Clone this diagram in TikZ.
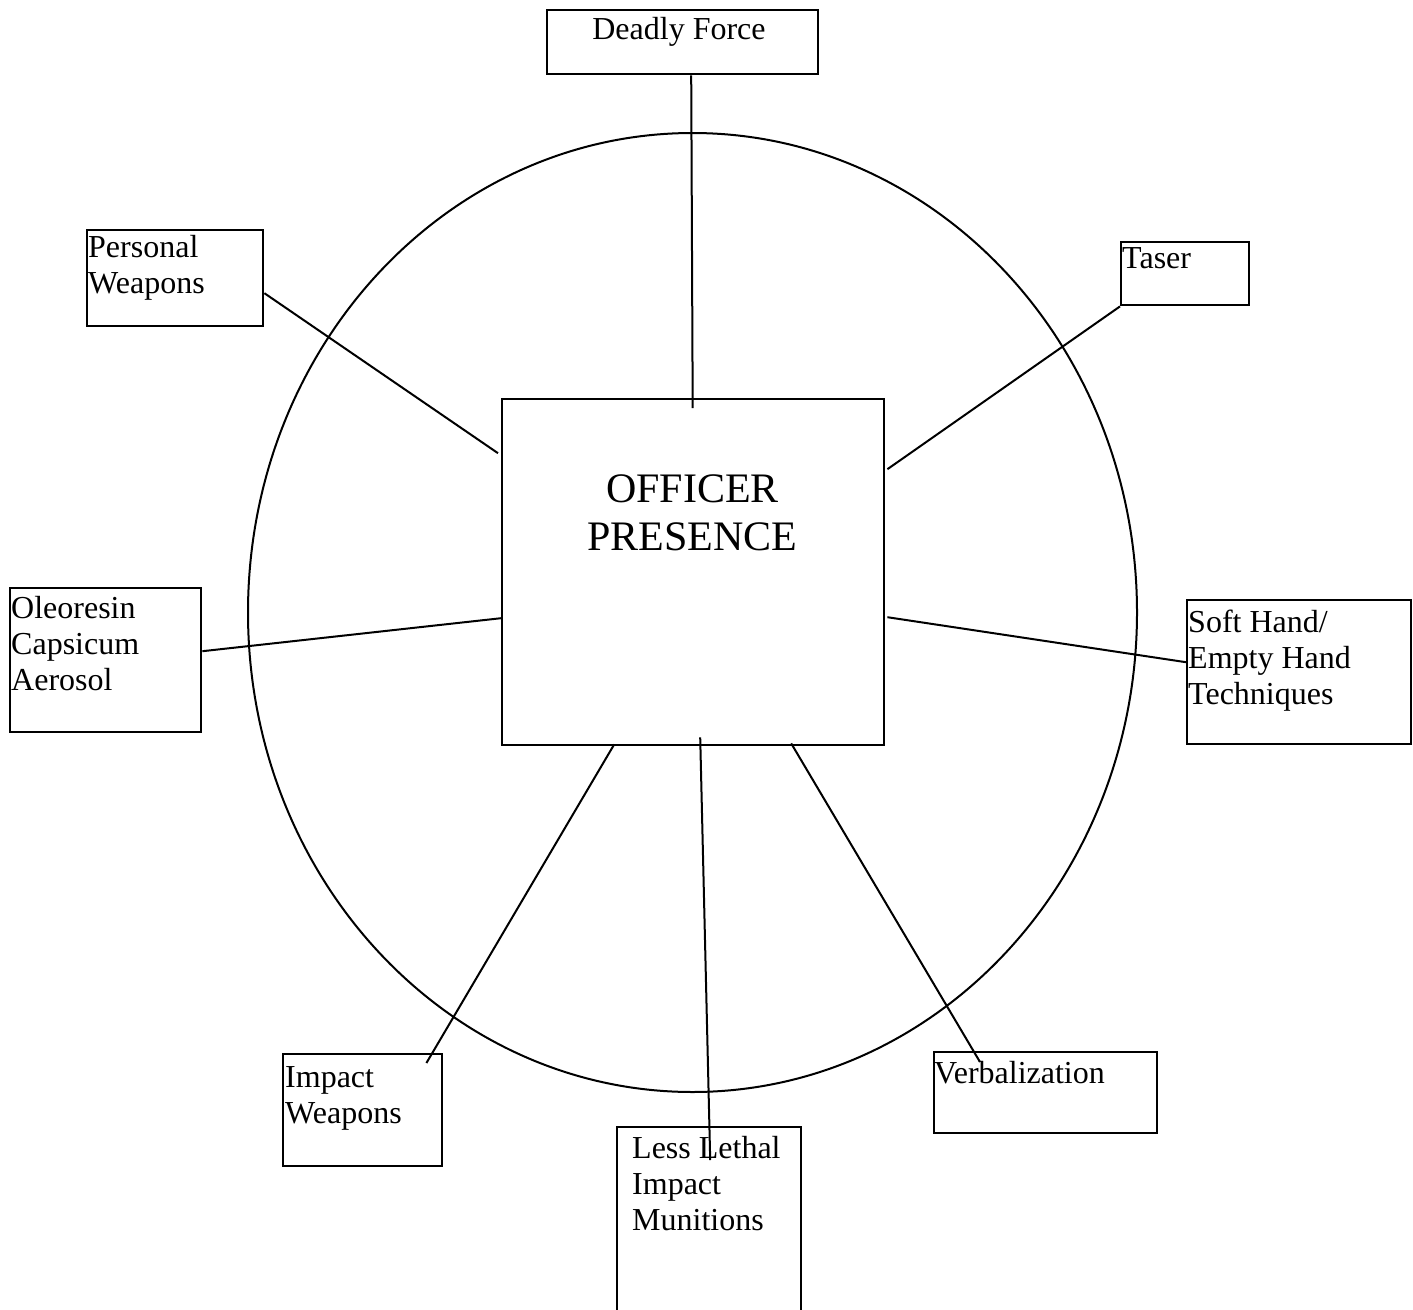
\documentclass[tikz,border=0pt]{standalone}
\usepackage{fontspec}
\setmainfont{Liberation Serif}
\begin{document}
\begin{tikzpicture}[x=1pt,y=-1pt,
  box/.style={draw, line width=2.4pt, inner sep=0pt, anchor=north west},
  lbl/.style={inner sep=0pt, anchor=base west, align=left, font=\fontsize{32}{36}\selectfont},
  biglbl/.style={inner sep=0pt, anchor=base, align=center, font=\fontsize{42}{48}\selectfont},
  link/.style={line width=2pt},
  ring/.style={line width=2pt}]
\useasboundingbox (0,0) rectangle (1413,1309);
\clip (0,0) rectangle (1413,1309);
% ring
\draw[ring] (692.5,612.5) ellipse [x radius=444.5, y radius=479.5];
% boxes
\node[box, minimum width=271pt, minimum height=64pt] (df) at (546,9) {};
\node[box, minimum width=176pt, minimum height=96pt] (pw) at (86,229) {};
\node[box, minimum width=128pt, minimum height=63pt] (ta) at (1120,241) {};
\node[box, minimum width=191pt, minimum height=144pt] (oc) at (9,587) {};
\node[box, minimum width=224pt, minimum height=144pt] (sh) at (1186,599) {};
\node[box, minimum width=159pt, minimum height=112pt] (iw) at (282,1053) {};
\node[box, minimum width=184pt, minimum height=230pt] (ll) at (616,1126) {};
\node[box, minimum width=223pt, minimum height=81pt] (vb) at (933,1051) {};
\node[box, minimum width=382pt, minimum height=346pt] (op) at (501,398) {};
% texts (anchored at the baseline of the last line)
\node[lbl, anchor=base] (dft) at (679,39) {Deadly Force};
\node[lbl] (pwt) at (88,293) {Personal\\Weapons};
\node[lbl] (tat) at (1122,268) {Taser};
\node[lbl] (oct) at (11,690) {Oleoresin\\Capsicum\\Aerosol};
\node[lbl] (sht) at (1188,704) {Soft Hand/\\Empty Hand\\Techniques};
\node[lbl] (iwt) at (285,1123) {Impact\\Weapons};
\node[lbl] (llt) at (632,1230) {Less Lethal\\Impact\\Munitions};
\node[lbl] (vbt) at (934,1083) {Verbalization};
\node[biglbl] (opt) at (692.5,550) {OFFICER\\PRESENCE};
% connectors
\draw[link] ([xshift=8.5pt]df.south) -- ([xshift=-0.5pt,yshift=-10pt]op.north);
\draw[link] ([yshift=-15pt]pw.east) -- ([xshift=-3pt,yshift=119pt]op.west);
\draw[link] (ta.south west) -- ([xshift=2pt,yshift=103pt]op.east);
\draw[link] ([yshift=9pt]oc.east) -- ([yshift=-46pt]op.west);
\draw[link] ([xshift=2pt,yshift=-45pt]op.east) -- ([yshift=10pt]sh.west);
\draw[link] ([xshift=-79pt,yshift=2pt]op.south) -- ([xshift=-17pt,yshift=-10pt]iw.north east);
\draw[link] ([xshift=7pt,yshift=9pt]op.south) -- ([xshift=1pt,yshift=-34pt]ll.north);
\draw[link] ([xshift=98pt,yshift=3pt]op.south) -- ([xshift=47pt,yshift=-11pt]vb.north west);
\end{tikzpicture}
\end{document}
